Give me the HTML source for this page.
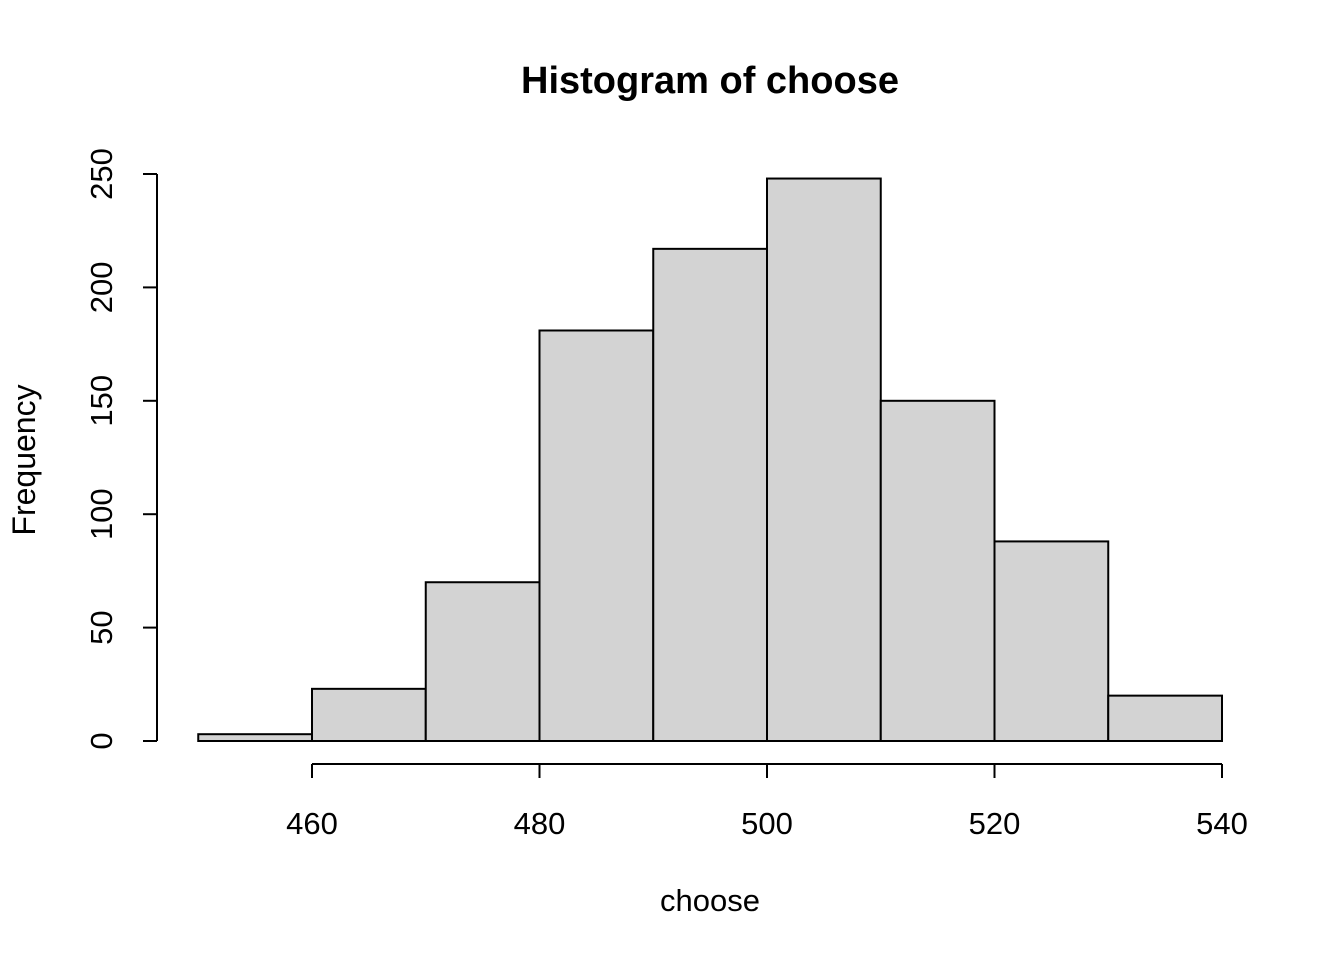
<!DOCTYPE html>
<html><head><meta charset="utf-8"><style>
html,body{margin:0;padding:0;background:#fff;}
svg{display:block;font-family:"Liberation Sans",Arial,sans-serif;}
</style></head><body>
<svg id="chart" width="1344" height="960" viewBox="0 0 1344 960" xmlns="http://www.w3.org/2000/svg">
<text x="710" y="93" text-anchor="middle" font-size="38" font-weight="bold">Histogram of choose</text>
<text x="710" y="911" text-anchor="middle" font-size="31">choose</text>
<text transform="translate(35,460) rotate(-90)" text-anchor="middle" font-size="32">Frequency</text>
<g id="bars"></g>
<g id="xaxis"></g>
<g id="yaxis"></g>
</svg>
<script>
const binStarts = [450,460,470,480,490,500,510,520,530];
const binWidth = 10;
const counts = [3,23,70,181,217,248,150,88,20];
const xTicks = [460,480,500,520,540];
const yTicks = [0,50,100,150,200,250];

const NS = "http://www.w3.org/2000/svg";
function xs(v){ return 312 + (v-460)*(910/80); }
function ys(v){ return 741 - v*(567/250); }
function mk(tag, attrs, parent){
  const e = document.createElementNS(NS, tag);
  for (const k in attrs) e.setAttribute(k, attrs[k]);
  parent.appendChild(e); return e;
}
const bars = document.getElementById('bars');
binStarts.forEach((s,i)=>{
  const x0 = xs(s), x1 = xs(s+binWidth), y = ys(counts[i]);
  const r = mk('rect',{x:x0,y:y,width:x1-x0,height:ys(0)-y,fill:'#d3d3d3',stroke:'#000','stroke-width':2},bars);
  
  
});
const xa = document.getElementById('xaxis');


mk('line',{x1:xs(xTicks[0]),x2:xs(xTicks[xTicks.length-1]),y1:764,y2:764,stroke:'#000','stroke-width':2},xa);
xTicks.forEach(t=>{
  mk('line',{x1:xs(t),x2:xs(t),y1:764,y2:778,stroke:'#000','stroke-width':2},xa);
  const tx = mk('text',{x:xs(t),y:834,'text-anchor':'middle','font-size':31},xa);
  tx.textContent = t;
  
  
});
const ya = document.getElementById('yaxis');


mk('line',{x1:157,x2:157,y1:ys(yTicks[0]),y2:ys(yTicks[yTicks.length-1]),stroke:'#000','stroke-width':2},ya);
yTicks.forEach(t=>{
  mk('line',{x1:143,x2:157,y1:ys(t),y2:ys(t),stroke:'#000','stroke-width':2},ya);
  const tx = mk('text',{transform:'translate(112,'+ys(t)+') rotate(-90)','text-anchor':'middle','font-size':31},ya);
  tx.textContent = t;
  
  
});
</script>
</body></html>
